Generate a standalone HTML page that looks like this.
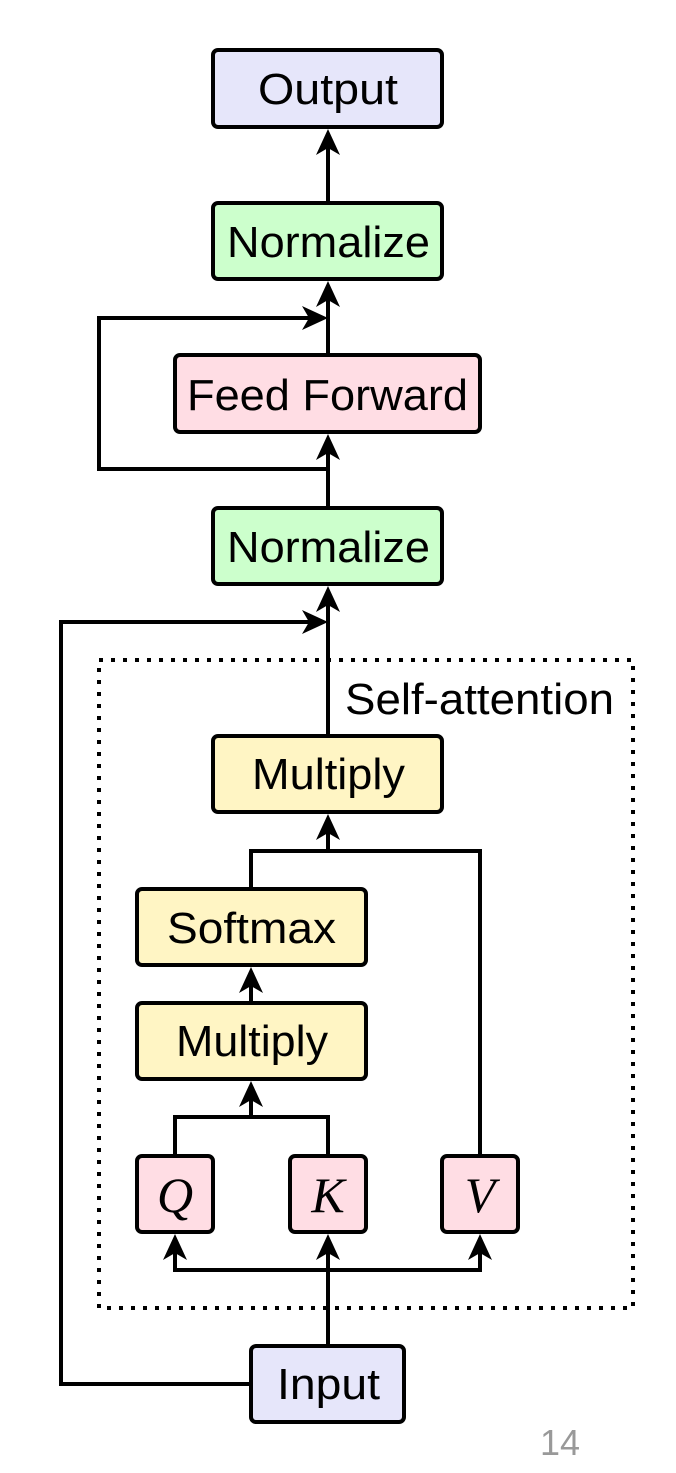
<!DOCTYPE html>
<html><head><meta charset="utf-8"><style>
html,body{margin:0;padding:0;background:#fff;}
svg{display:block;}
text{font-family:"Liberation Sans",sans-serif;}
</style></head><body>
<svg width="676" height="1473" viewBox="0 0 676 1473" xmlns="http://www.w3.org/2000/svg">
<defs>
<path id="au" d="M0,0 L-12,26 L0,19 L12,26 Z" fill="#000"/>
<path id="ar" d="M0,0 L-26,-12 L-19,0 L-26,12 Z" fill="#000"/>
</defs>
<g stroke="#000" stroke-width="4" fill="none">
<rect x="99" y="660" width="534" height="648" stroke-width="4" stroke-dasharray="4 8"/>
<line x1="328" y1="203" x2="328" y2="135"/>
<line x1="328" y1="355" x2="328" y2="287"/>
<line x1="328" y1="508" x2="328" y2="440"/>
<line x1="328" y1="736" x2="328" y2="592"/>
<polyline points="328,469 99,469 99,318 310,318"/>
<polyline points="251,1384 61,1384 61,622 310,622"/>
<polyline points="251,889 251,851 480,851 480,1156"/>
<line x1="328" y1="851" x2="328" y2="820"/>
<line x1="251" y1="1003" x2="251" y2="973"/>
<polyline points="175,1156 175,1117 328,1117 328,1156"/>
<line x1="251" y1="1117" x2="251" y2="1087"/>
<line x1="328" y1="1346" x2="328" y2="1240"/>
<polyline points="175,1240 175,1270 480,1270 480,1240"/>
</g>
<g>
<use href="#au" x="328" y="129"/>
<use href="#au" x="328" y="281"/>
<use href="#au" x="328" y="434"/>
<use href="#au" x="328" y="586"/>
<use href="#ar" x="328" y="318"/>
<use href="#ar" x="328" y="622"/>
<use href="#au" x="328" y="814"/>
<use href="#au" x="251" y="967"/>
<use href="#au" x="251" y="1081"/>
<use href="#au" x="175" y="1234"/>
<use href="#au" x="328" y="1234"/>
<use href="#au" x="480" y="1234"/>
</g>
<g stroke="#000" stroke-width="4">
<rect x="213" y="50" width="229" height="77" rx="5" fill="#e6e6fa"/>
<rect x="213" y="203" width="229" height="76" rx="5" fill="#ccffcc"/>
<rect x="175" y="355" width="305" height="77" rx="5" fill="#ffdde4"/>
<rect x="213" y="508" width="229" height="76" rx="5" fill="#ccffcc"/>
<rect x="213" y="736" width="229" height="76" rx="5" fill="#fff5c4"/>
<rect x="137" y="889" width="229" height="76" rx="5" fill="#fff5c4"/>
<rect x="137" y="1003" width="229" height="76" rx="5" fill="#fff5c4"/>
<rect x="137" y="1156" width="76" height="76" rx="5" fill="#ffdde4"/>
<rect x="290" y="1156" width="76" height="76" rx="5" fill="#ffdde4"/>
<rect x="442" y="1156" width="76" height="76" rx="5" fill="#ffdde4"/>
<rect x="251" y="1346" width="153" height="76" rx="5" fill="#e6e6fa"/>
</g>
<g font-size="44" fill="#000" lengthAdjust="spacingAndGlyphs">
<text x="258" y="104" textLength="140" lengthAdjust="spacingAndGlyphs">Output</text>
<text x="227" y="257" textLength="203" lengthAdjust="spacingAndGlyphs">Normalize</text>
<text x="187" y="410" textLength="281" lengthAdjust="spacingAndGlyphs">Feed Forward</text>
<text x="227" y="562" textLength="203" lengthAdjust="spacingAndGlyphs">Normalize</text>
<text x="252" y="789" textLength="153" lengthAdjust="spacingAndGlyphs">Multiply</text>
<text x="167" y="943" textLength="169" lengthAdjust="spacingAndGlyphs">Softmax</text>
<text x="176" y="1056" textLength="152" lengthAdjust="spacingAndGlyphs">Multiply</text>
<text x="277" y="1399" textLength="103" lengthAdjust="spacingAndGlyphs">Input</text>
<text x="345" y="714" textLength="269" lengthAdjust="spacingAndGlyphs">Self-attention</text>
</g>
<g font-style="italic" font-size="50" text-anchor="middle" fill="#000">
<text x="175" y="1212" style="font-family:'Liberation Serif',serif">Q</text>
<text x="328" y="1212" style="font-family:'Liberation Serif',serif">K</text>
<text x="480" y="1212" style="font-family:'Liberation Serif',serif">V</text>
</g>
<text x="540" y="1455" font-size="36" fill="#999" textLength="40" lengthAdjust="spacingAndGlyphs">14</text>
</svg>
</body></html>
